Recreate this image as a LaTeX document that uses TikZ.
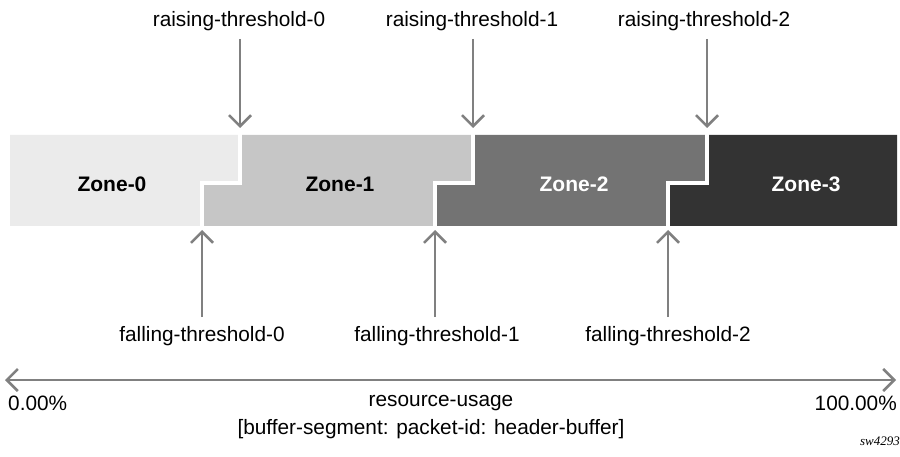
\documentclass[tikz,border=0pt]{standalone}
\usepackage{fontspec}
\setmainfont{Liberation Sans}
\newfontfamily\serifit{Liberation Serif}
\usetikzlibrary{arrows.meta}
\definecolor{zA}{HTML}{EBEBEB}
\definecolor{zB}{HTML}{C6C6C6}
\definecolor{zC}{HTML}{737373}
\definecolor{zD}{HTML}{333333}
\definecolor{arr}{HTML}{808080}
\tikzset{
  lbl/.style={font=\fontsize{20.8}{23}\selectfont, inner sep=0pt},
  zlbl/.style={font=\fontsize{21}{23}\selectfont\bfseries, inner sep=0pt},
  thr/.style={draw=arr, line width=2.5pt, -{Straight Barb[length=11pt,width=22pt]}},
  gap/.style={draw=white, line width=4pt},
}
\begin{document}
\begin{tikzpicture}[x=1pt,y=-1pt]
\useasboundingbox (0,0) rectangle (900,457);
% zones
\fill[zA] (10,135) -- (240,135) -- (240,183) -- (202,183) -- (202,226) -- (10,226) -- cycle;
\fill[zB] (240,135) -- (473,135) -- (473,183) -- (435,183) -- (435,226) -- (202,226) -- (202,183) -- (240,183) -- cycle;
\fill[zC] (473,135) -- (707,135) -- (707,183) -- (668,183) -- (668,226) -- (435,226) -- (435,183) -- (473,183) -- cycle;
\fill[zD] (707,135) -- (897,135) -- (897,226) -- (668,226) -- (668,183) -- (707,183) -- cycle;
\draw[gap] (240,133) -- (240,183) -- (202,183) -- (202,228);
\draw[gap] (473,133) -- (473,183) -- (435,183) -- (435,228);
\draw[gap] (707,133) -- (707,183) -- (668,183) -- (668,228);
% zone labels
\node[zlbl] (z0) at (112,184) {Zone-0};
\node[zlbl] (z1) at (340,184) {Zone-1};
\node[zlbl, text=white] (z2) at (574,184) {Zone-2};
\node[zlbl, text=white] (z3) at (806,184) {Zone-3};
% bar coordinates
\coordinate (rt0) at (240,135);
\coordinate (rt1) at (473,135);
\coordinate (rt2) at (707,135);
\coordinate (fb0) at (202,226);
\coordinate (fb1) at (435,226);
\coordinate (fb2) at (668,226);
% raising thresholds
\node[lbl] (r0) at (239,21) {raising-threshold-0};
\node[lbl] (r1) at (472,21) {raising-threshold-1};
\node[lbl] (r2) at (704,21) {raising-threshold-2};
\draw[thr, shorten <=8pt, shorten >=7pt] (r0.south -| rt0) -- (rt0);
\draw[thr, shorten <=8pt, shorten >=7pt] (r1.south -| rt1) -- (rt1);
\draw[thr, shorten <=8pt, shorten >=7pt] (r2.south -| rt2) -- (rt2);
% falling thresholds
\node[lbl] (f0) at (202,336) {falling-threshold-0};
\node[lbl] (f1) at (437,336) {falling-threshold-1};
\node[lbl] (f2) at (668,336) {falling-threshold-2};
\draw[thr, shorten <=9pt, shorten >=4pt] (f0.north -| fb0) -- (fb0);
\draw[thr, shorten <=9pt, shorten >=4pt] (f1.north -| fb1) -- (fb1);
\draw[thr, shorten <=9pt, shorten >=4pt] (f2.north -| fb2) -- (fb2);
% axis
\coordinate (axl) at (5,380);
\coordinate (axr) at (896,380);
\draw[draw=arr, line width=2.5pt, {Straight Barb[length=11pt,width=22pt]}-{Straight Barb[length=11pt,width=22pt]}] (axl) -- (axr);
\node[lbl, anchor=west] (p0) at (8,403) {0.00\%};
\node[lbl, anchor=east] (p100) at (897,403) {100.00\%};
\node[lbl] (ru) at (441,403) {resource-usage};
\node[lbl] (bs) at (431,429) {[buffer-segment: packet-id: header-buffer]};
\node[font=\serifit\itshape\fontsize{13}{15}\selectfont, inner sep=0pt, anchor=east] (sw) at (900,441) {sw4293};
\end{tikzpicture}
\end{document}
